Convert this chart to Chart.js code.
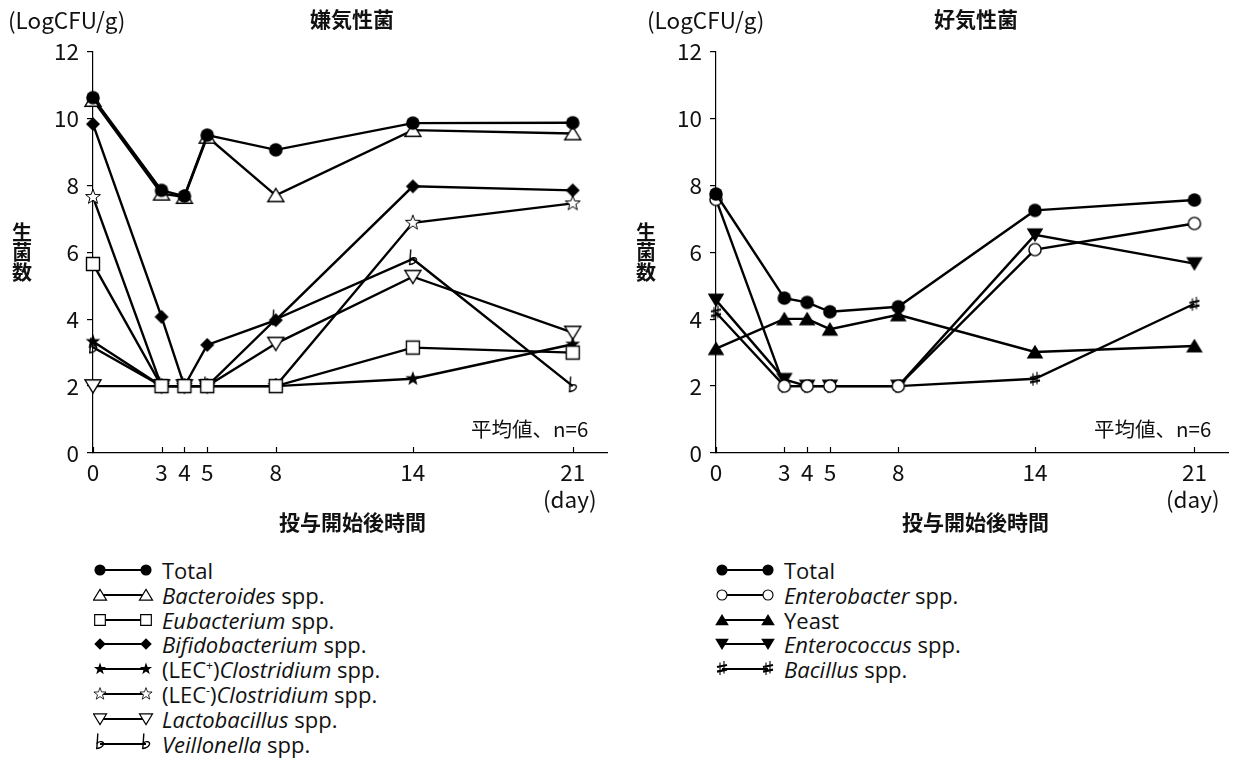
<!DOCTYPE html>
<html>
<head>
<meta charset="utf-8">
<script src="https://cdn.jsdelivr.net/npm/chart.js@4.4.1/dist/chart.umd.min.js"></script>
<style>
  body { margin:0; background:#fff; width:1238px; height:760px; position:relative; overflow:hidden;
         font-family:"Noto Sans CJK JP", sans-serif; color:#111; }
  canvas.plot { position:absolute; top:0; }
  .t { position:absolute; white-space:nowrap; line-height:1; }
  .title { font-size:21px; font-weight:bold; }
  .unit { font-size:22.5px; }
  .vert { font-size:20px; line-height:20px; width:22px; text-align:center; font-weight:bold; }
  .note { font-size:20.5px; }
  .leg { position:absolute; height:22px; white-space:nowrap; }
  .leg canvas { position:absolute; left:0; top:0; }
  .leg span { position:absolute; left:69px; top:0; line-height:22px; font-family:"Open Sans", sans-serif; font-size:22px; color:#111; }
  .leg sup { font-size:12px; vertical-align:8px; line-height:0; }
</style>
</head>
<body>
<canvas id="anaerobe" class="plot" width="620" height="545" style="left:0"></canvas>
<canvas id="aerobe" class="plot" width="618" height="545" style="left:620px"></canvas>

<div class="t unit" style="left:8px;top:8px">(LogCFU/g)</div>
<div class="t title" style="left:310px;top:8px">嫌気性菌</div>
<div class="t vert" style="left:11px;top:222px">生<br>菌<br>数</div>
<div class="t note" style="left:471px;top:418px">平均値、n=6</div>
<div class="t unit" style="left:543px;top:487px">(day)</div>
<div class="t title" style="left:279px;top:511px">投与開始後時間</div>

<div class="t unit" style="left:647px;top:8px">(LogCFU/g)</div>
<div class="t title" style="left:934px;top:8px">好気性菌</div>
<div class="t vert" style="left:635px;top:222px">生<br>菌<br>数</div>
<div class="t note" style="left:1094px;top:418px">平均値、n=6</div>
<div class="t unit" style="left:1166px;top:487px">(day)</div>
<div class="t title" style="left:902px;top:511px">投与開始後時間</div>

<div id="legendLeft"></div>
<div id="legendRight"></div>

<script>
// Sampling days and axis ticks
const days = [0, 3, 4, 5, 8, 14, 21];
const dayTicks = [0, 3, 4, 5, 8, 14, 21];
const countTicks = [0, 2, 4, 6, 8, 10, 12];

// Anaerobes (LogCFU/g, mean of n=6)
const anaerobeTotal     = [10.62, 7.85, 7.68, 9.50, 9.06, 9.86, 9.87];
const bacteroides       = [10.55, 7.75, 7.65, 9.45, 7.70, 9.65, 9.55];
const eubacterium       = [5.65, 2.00, 2.00, 2.00, 2.00, 3.15, 3.00];
const bifidobacterium   = [9.83, 4.07, 2.00, 3.23, 3.97, 7.97, 7.85];
const clostridiumLecPos = [3.33, 2.00, 2.00, 2.00, 2.00, 2.22, 3.25];
const clostridiumLecNeg = [7.65, 2.00, 2.00, 2.00, 2.00, 6.88, 7.46];
const lactobacillus     = [2.00, 2.00, 2.00, 2.00, 3.27, 5.27, 3.60];
const veillonella       = [3.16, 2.00, 2.00, 2.00, 4.00, 5.80, 2.00];

// Aerobes (LogCFU/g, mean of n=6)
const aerobeTotal  = [7.74, 4.63, 4.50, 4.22, 4.37, 7.25, 7.56];
const enterobacter = [7.58, 2.00, 2.00, 2.00, 2.00, 6.08, 6.86];
const yeast        = [3.12, 4.01, 4.01, 3.70, 4.13, 3.02, 3.20];
const enterococcus = [4.57, 2.20, 2.00, 2.00, 2.00, 6.52, 5.66];
const bacillus     = [4.20, 2.00, 2.00, 2.00, 2.00, 2.22, 4.46];

// Legend labels
const anaerobeLabels = ['Total', '<i>Bacteroides</i> spp.', '<i>Eubacterium</i> spp.', '<i>Bifidobacterium</i> spp.',
  '(LEC<sup>+</sup>)<i>Clostridium</i> spp.', '(LEC<sup>-</sup>)<i>Clostridium</i> spp.',
  '<i>Lactobacillus</i> spp.', '<i>Veillonella</i> spp.'];
const aerobeLabels = ['Total', '<i>Enterobacter</i> spp.', 'Yeast', '<i>Enterococcus</i> spp.', '<i>Bacillus</i> spp.'];

// ---- marker glyphs drawn on small canvases ----
function marker(kind, s) {
  let size = Math.round(24 * s); if (size % 2) size++;
  const c = document.createElement('canvas');
  c.width = c.height = size;
  const g = c.getContext('2d');
  g.translate(size / 2, size / 2);
  g.scale(s, s);
  g.strokeStyle = '#000'; g.fillStyle = '#000'; g.lineJoin = 'miter';
  const poly = (pts, filled, lw) => {
    g.beginPath(); pts.forEach((p, i) => i ? g.lineTo(p[0], p[1]) : g.moveTo(p[0], p[1])); g.closePath();
    if (filled) { g.fillStyle = '#000'; g.fill(); }
    else { g.fillStyle = '#fff'; g.fill(); g.lineWidth = lw; g.stroke(); }
  };
  const star = () => { const p = []; for (let i = 0; i < 10; i++) { const r = i % 2 ? 3.2 : 7.8; const a = -Math.PI / 2 + i * Math.PI / 5; p.push([r * Math.cos(a), r * Math.sin(a)]); } return p; };
  switch (kind) {
    case 'dot': g.beginPath(); g.arc(0, 0, 6.8, 0, Math.PI * 2); g.fill(); break;
    case 'ring': g.beginPath(); g.arc(0, 0, 6.1, 0, Math.PI * 2); g.fillStyle = '#fff'; g.fill(); g.lineWidth = 1.4; g.stroke(); break;
    case 'triUpOpen': poly([[0, -6.8], [8, 6.2], [-8, 6.2]], false, 1.4); break;
    case 'triUp': poly([[0, -7.2], [8.3, 6.4], [-8.3, 6.4]], true); break;
    case 'triDownOpen': poly([[0, 6.8], [8, -6.2], [-8, -6.2]], false, 1.4); break;
    case 'triDown': poly([[0, 7.2], [8.3, -6.4], [-8.3, -6.4]], true); break;
    case 'square': poly([[-6.5, -6.5], [6.5, -6.5], [6.5, 6.5], [-6.5, 6.5]], false, 1.4); break;
    case 'diamond': poly([[0, -7], [7, 0], [0, 7], [-7, 0]], true); break;
    case 'starFilled': poly(star(), true); break;
    case 'starOpen': poly(star(), false, 1.0); break;
    case 'flat':
      g.lineWidth = 1.4; g.lineCap = 'round';
      g.beginPath(); g.moveTo(-2.2, -9); g.lineTo(-3.2, 5.5); g.stroke();
      g.beginPath(); g.moveTo(-2.9, 0.2); g.bezierCurveTo(-0.2, -2.4, 4.6, -1.6, 3.4, 1.6);
      g.bezierCurveTo(2.4, 4.0, -0.6, 5.3, -3.2, 5.5); g.stroke();
      break;
    case 'sharp':
      g.lineWidth = 1.1;
      g.beginPath(); g.moveTo(-2, -5.5); g.lineTo(-2, 7); g.moveTo(2, -7); g.lineTo(2, 5.5); g.stroke();
      g.lineWidth = 2.1;
      g.beginPath(); g.moveTo(-5, -1); g.lineTo(5, -3); g.moveTo(-5, 3.6); g.lineTo(5, 1.6); g.stroke();
      break;
  }
  return c;
}

const tickFont = { family: '"Noto Sans CJK JP", sans-serif', size: 22.5 };

// x-axis tick marks point upward into the plot
const innerTicks = {
  id: 'innerTicks',
  beforeDatasetsDraw(chart) {
    const xs = chart.scales.x, ctx = chart.ctx, b = chart.chartArea.bottom;
    ctx.save(); ctx.strokeStyle = '#000'; ctx.lineWidth = 1.2;
    dayTicks.forEach(v => {
      const px = Math.round(xs.getPixelForValue(v)) + 0.5;
      ctx.beginPath(); ctx.moveTo(px, b); ctx.lineTo(px, b - 6); ctx.stroke();
    });
    ctx.restore();
  }
};

function drawPanel(id, series, yWidth, padRight) {
  const canvas = document.getElementById(id);
  const H = canvas.height;
  new Chart(canvas, {
    type: 'line',
    data: {
      datasets: series.map((s, i) => ({
        data: days.map((d, j) => ({ x: d, y: s.values[j] })),
        pointStyle: marker(s.marker, 1), pointRadius: 7,
        borderColor: '#000', backgroundColor: '#000', borderWidth: 2.4,
        tension: 0, fill: false, clip: false, order: i
      }))
    },
    options: {
      responsive: false, animation: false, events: [],
      layout: { padding: { top: 51.5, right: padRight, left: 0, bottom: 0 } },
      plugins: { legend: { display: false }, tooltip: { enabled: false } },
      scales: {
        x: {
          type: 'linear', min: 0, max: 22.5,
          afterBuildTicks: sc => { sc.ticks = dayTicks.map(v => ({ value: v })); },
          afterFit: sc => { sc.height = H - 453; },
          grid: { drawOnChartArea: false, drawTicks: false },
          border: { color: '#000', width: 1.2 },
          ticks: { font: tickFont, color: '#111', padding: 6, maxRotation: 0, autoSkip: false }
        },
        y: {
          min: 0, max: 12,
          afterBuildTicks: sc => { sc.ticks = countTicks.map(v => ({ value: v })); },
          afterFit: sc => { sc.width = yWidth; },
          grid: { drawOnChartArea: false, drawTicks: true, tickLength: 6, color: '#000', lineWidth: 1.2 },
          border: { color: '#000', width: 1.2 },
          ticks: { font: tickFont, color: '#111', padding: 8 }
        }
      }
    },
    plugins: [innerTicks]
  });
}

drawPanel('anaerobe', [
  { values: eubacterium, marker: 'square' },
  { values: anaerobeTotal, marker: 'dot' },
  { values: bacteroides, marker: 'triUpOpen' },
  { values: bifidobacterium, marker: 'diamond' },
  { values: lactobacillus, marker: 'triDownOpen' },
  { values: clostridiumLecNeg, marker: 'starOpen' },
  { values: clostridiumLecPos, marker: 'starFilled' },
  { values: veillonella, marker: 'flat' }
], 93, 13);

drawPanel('aerobe', [
  { values: aerobeTotal, marker: 'dot' },
  { values: enterobacter, marker: 'ring' },
  { values: yeast, marker: 'triUp' },
  { values: enterococcus, marker: 'triDown' },
  { values: bacillus, marker: 'sharp' }
], 96, 8);

// ---- legends: marker—line—marker followed by the label ----
function legend(hostId, x0, labels, kinds) {
  const host = document.getElementById(hostId);
  labels.forEach((html, i) => {
    const row = document.createElement('div');
    row.className = 'leg';
    row.style.left = x0 + 'px';
    row.style.top = (559 + i * 24.8) + 'px';
    const c = document.createElement('canvas');
    c.width = 66; c.height = 24;
    const g = c.getContext('2d');
    g.strokeStyle = '#000'; g.lineWidth = 2;
    g.beginPath(); g.moveTo(7, 11); g.lineTo(53, 11); g.stroke();
    const glyph = kinds[i] === 'flat' || kinds[i] === 'sharp';
    const m = marker(kinds[i], glyph ? 1 : 0.82);
    const cy = glyph ? 10 : 11;
    g.drawImage(m, 7 - m.width / 2, cy - m.height / 2);
    g.drawImage(m, 53 - m.width / 2, cy - m.height / 2);
    const span = document.createElement('span');
    span.innerHTML = html;
    row.appendChild(c); row.appendChild(span);
    host.appendChild(row);
  });
}
legend('legendLeft', 93, anaerobeLabels,
  ['dot', 'triUpOpen', 'square', 'diamond', 'starFilled', 'starOpen', 'triDownOpen', 'flat']);
legend('legendRight', 715, aerobeLabels, ['dot', 'ring', 'triUp', 'triDown', 'sharp']);
</script>
</body>
</html>
